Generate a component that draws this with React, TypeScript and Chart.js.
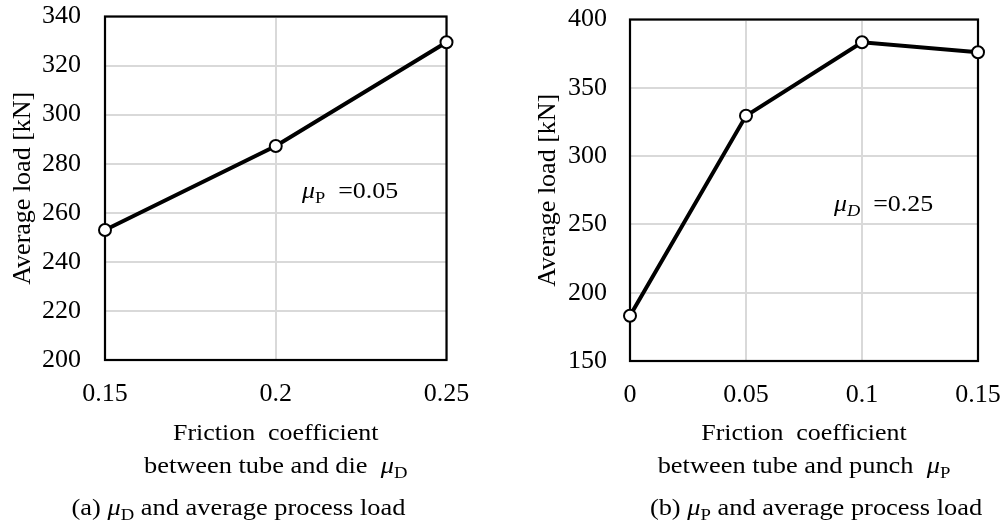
import React, { useEffect, useRef } from "react";
import { Chart, registerables } from "chart.js";
Chart.register(...registerables);

// Data (a): friction coefficient between tube and die vs average load
const muDValues = [0.15, 0.2, 0.25];
const loadA = [253, 287.2, 329.5];
// Data (b): friction coefficient between tube and punch vs average load
const muPValues = [0, 0.05, 0.1, 0.15];
const loadB = [183.1, 329.5, 383.3, 376];

const FONT = "'Liberation Serif', 'Times New Roman', serif";

type Seg = { t: string; italic?: boolean; sub?: boolean };

function segFont(s: Seg, size: number) {
  const sz = s.sub ? Math.round(size * 0.7) : size;
  return `${s.italic ? "italic " : ""}${sz}px ${FONT}`;
}

function drawRich(
  ctx: CanvasRenderingContext2D,
  segs: Seg[],
  x: number,
  y: number,
  size: number,
  align: "left" | "center",
  sx: number
) {
  let total = 0;
  for (const s of segs) {
    ctx.font = segFont(s, size);
    total += ctx.measureText(s.t).width;
  }
  ctx.save();
  ctx.translate(x, y);
  ctx.scale(sx, 1);
  let cx = align === "center" ? -total / 2 : 0;
  ctx.textAlign = "left";
  ctx.textBaseline = "alphabetic";
  ctx.fillStyle = "#000";
  for (const s of segs) {
    ctx.font = segFont(s, size);
    ctx.fillText(s.t, cx, s.sub ? size * 0.22 : 0);
    cx += ctx.measureText(s.t).width;
  }
  ctx.restore();
}

type Cfg = {
  xs: number[];
  ys: number[];
  xMin: number;
  xMax: number;
  xStep: number;
  yMin: number;
  yMax: number;
  yStep: number;
  w: number;
  h: number;
  plotL: number;
  plotR: number;
  plotT: number;
  plotB: number;
  yPad: number;
  yTitlePad: number;
  line1: Seg[];
  line2: Seg[];
  caption: Seg[];
  captionX: number;
  annot: Seg[];
  annotX: number;
  annotY: number;
};

function fmt(v: number) {
  return String(Number(v.toFixed(3)));
}

function buildChart(canvas: HTMLCanvasElement, cfg: Cfg) {
  const boxPlugin = {
    id: "boxAndText",
    beforeDatasetsDraw(chart: any) {
      const { ctx, chartArea } = chart;
      ctx.save();
      ctx.strokeStyle = "#000";
      ctx.lineWidth = 2.2;
      ctx.strokeRect(chartArea.left, chartArea.top, chartArea.right - chartArea.left, chartArea.bottom - chartArea.top);
      ctx.restore();
    },
    afterDraw(chart: any) {
      const { ctx, chartArea } = chart;
      const cx = (chartArea.left + chartArea.right) / 2;
      drawRich(ctx, cfg.line1, cx, 440, 24, "center", 1.08);
      drawRich(ctx, cfg.line2, cx, 473, 24, "center", 1.1);
      drawRich(ctx, cfg.caption, cfg.captionX, 515, 24, "center", 1.1);
      const ax = chart.scales.x.getPixelForValue(cfg.annotX);
      const ay = chart.scales.y.getPixelForValue(cfg.annotY);
      drawRich(ctx, cfg.annot, ax, ay, 24, "left", 1.08);
    },
  };
  const chart: any = new Chart(canvas, {
    type: "line",
    data: {
      datasets: [
        {
          data: cfg.xs.map((x, i) => ({ x, y: cfg.ys[i] })),
          borderColor: "#000",
          borderWidth: 4,
          pointRadius: 6,
          pointBorderWidth: 2,
          pointBackgroundColor: "#fff",
          pointBorderColor: "#000",
          tension: 0,
          clip: false as any,
        },
      ],
    },
    options: {
      animation: false,
      responsive: false,
      devicePixelRatio: 1,
      layout: {
        autoPadding: false,
        padding: { top: cfg.plotT, right: cfg.w - cfg.plotR, left: 0, bottom: 0 },
      },
      plugins: { legend: { display: false }, tooltip: { enabled: false } },
      scales: {
        x: {
          type: "linear",
          min: cfg.xMin,
          max: cfg.xMax,
          afterFit(scale: any) {
            scale.height = cfg.h - cfg.plotB;
            scale.paddingLeft = 0;
            scale.paddingRight = 0;
          },
          afterBuildTicks(scale: any) {
            const t = [];
            for (let v = cfg.xMin; v <= cfg.xMax + 1e-9; v += cfg.xStep) t.push({ value: Number(v.toFixed(4)) });
            scale.ticks = t;
          },
          ticks: {
            callback: (v: any) => fmt(Number(v)),
            color: "#000",
            font: { family: FONT, size: 26 },
            padding: 19,
            maxRotation: 0,
            autoSkip: false,
          },
          grid: { color: "#d9d9d9", lineWidth: 2, drawTicks: false },
          border: { display: false },
        },
        y: {
          type: "linear",
          min: cfg.yMin,
          max: cfg.yMax,
          afterFit(scale: any) {
            scale.width = cfg.plotL;
            scale.paddingTop = 0;
            scale.paddingBottom = 0;
          },
          ticks: {
            stepSize: cfg.yStep,
            color: "#000",
            font: { family: FONT, size: 26 },
            padding: cfg.yPad,
          },
          grid: { color: "#d9d9d9", lineWidth: 2, drawTicks: false },
          border: { display: false },
          title: {
            display: true,
            text: "Average load [kN]",
            color: "#000",
            font: { family: FONT, size: 26 },
            padding: { top: cfg.yTitlePad, bottom: 0 },
          },
        },
      },
    } as any,
    plugins: [boxPlugin],
  });
  return chart;
}

function ChartBox({ cfg, left }: { cfg: Cfg; left: number }) {
  const ref = useRef<HTMLCanvasElement>(null);
  useEffect(() => {
    let chart: any = null;
    let cancelled = false;
    const make = () => {
      if (cancelled) return;
      if (chart) chart.destroy();
      chart = buildChart(ref.current!, cfg);
    };
    make();
    const fonts: any = (document as any).fonts;
    if (fonts && fonts.load) {
      Promise.all([fonts.load(`24px "Liberation Serif"`), fonts.load(`italic 24px "Liberation Serif"`)])
        .then(make)
        .catch(() => {});
    }
    return () => {
      cancelled = true;
      if (chart) chart.destroy();
    };
  }, [cfg]);
  return (
    <canvas
      ref={ref}
      width={cfg.w}
      height={cfg.h}
      style={{ position: "absolute", left, top: 0, width: cfg.w, height: cfg.h }}
    />
  );
}

const cfgA: Cfg = {
  xs: muDValues,
  ys: loadA,
  xMin: 0.15,
  xMax: 0.25,
  xStep: 0.05,
  yMin: 200,
  yMax: 340,
  yStep: 20,
  w: 490,
  h: 531,
  plotL: 105,
  plotR: 446.5,
  plotT: 16.5,
  plotB: 360,
  yPad: 24,
  yTitlePad: 8,
  line1: [{ t: "Friction  coefficient" }],
  line2: [{ t: "between tube and die  " }, { t: "μ", italic: true }, { t: "D", sub: true }],
  caption: [{ t: "(a) " }, { t: "μ", italic: true }, { t: "D", sub: true }, { t: " and average process load" }],
  captionX: 238.5,
  annot: [{ t: "μ", italic: true }, { t: "P", sub: true }, { t: "  =0.05" }],
  annotX: 0.2077,
  annotY: 266,
};

const cfgB: Cfg = {
  xs: muPValues,
  ys: loadB,
  xMin: 0,
  xMax: 0.15,
  xStep: 0.05,
  yMin: 150,
  yMax: 400,
  yStep: 50,
  w: 487,
  h: 531,
  plotL: 110,
  plotR: 458,
  plotT: 19.5,
  plotB: 361,
  yPad: 23,
  yTitlePad: 13,
  line1: [{ t: "Friction  coefficient" }],
  line2: [{ t: "between tube and punch  " }, { t: "μ", italic: true }, { t: "P", sub: true }],
  caption: [{ t: "(b) " }, { t: "μ", italic: true }, { t: "P", sub: true }, { t: " and average process load" }],
  captionX: 296,
  annot: [{ t: "μ", italic: true }, { t: "D", sub: true, italic: true }, { t: "  =0.25" }],
  annotX: 0.0879,
  annotY: 259.8,
};

export default function App() {
  return (
    <div style={{ position: "absolute", left: 0, top: 0, width: 1007, height: 531, background: "#fff", overflow: "hidden" }}>
      <ChartBox cfg={cfgA} left={0} />
      <ChartBox cfg={cfgB} left={520} />
    </div>
  );
}
